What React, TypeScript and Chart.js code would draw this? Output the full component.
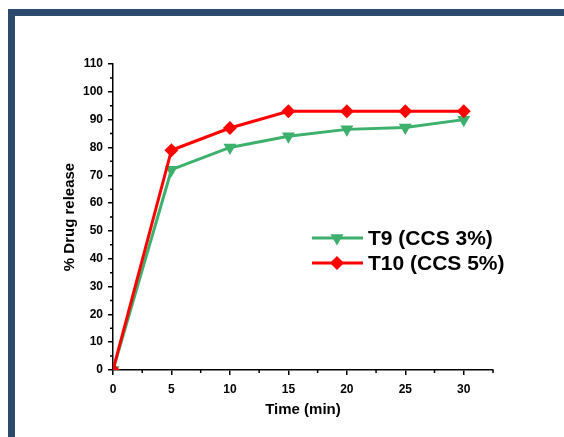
import React, { useEffect, useRef } from "react";
import { Chart, registerables } from "chart.js";

Chart.register(...registerables);

const times = [0, 5, 10, 15, 20, 25, 30];
const t9Values = [0, 72, 80, 84, 86.5, 87.2, 90];
const t10Values = [0, 79, 87, 93, 93, 93, 93];
const xTickValues = [0, 5, 10, 15, 20, 25, 30];
const seriesNames = ["T9 (CCS 3%)", "T10 (CCS 5%)"];
const xTitle = "Time (min)";
const yTitle = "% Drug release";

const GREEN = "#3cb06c";
const RED = "#ff0000";
const FONT = "Arial, 'Liberation Sans', sans-serif";

const extrasPlugin = {
  id: "extras",
  beforeDraw(chart: any) {
    const ctx = chart.ctx;
    ctx.save();
    ctx.fillStyle = "#ffffff";
    ctx.fillRect(0, 0, chart.width, chart.height);
    ctx.fillStyle = "#2c4a6d";
    ctx.fillRect(8, 9, chart.width - 8, 7);
    ctx.fillRect(8, 9, 7, chart.height - 9);
    ctx.restore();
  },
  afterDraw(chart: any) {
    const ctx = chart.ctx;
    const xs = chart.scales.x;
    const ys = chart.scales.y;
    const area = chart.chartArea;
    ctx.save();
    // minor ticks
    ctx.strokeStyle = "#000";
    ctx.lineWidth = 1.5;
    ctx.beginPath();
    for (let v = 2.5; v <= xs.max + 0.01; v += 5) {
      const px = xs.getPixelForValue(v);
      ctx.moveTo(px, area.bottom);
      ctx.lineTo(px, area.bottom + 3);
    }
    for (let v = 5; v <= ys.max; v += 10) {
      const py = ys.getPixelForValue(v);
      ctx.moveTo(area.left, py);
      ctx.lineTo(area.left - 3, py);
    }
    ctx.stroke();

    // axis titles
    ctx.fillStyle = "#000";
    ctx.font = `bold 15px ${FONT}`;
    ctx.textAlign = "center";
    ctx.textBaseline = "middle";
    ctx.fillText(xTitle, (area.left + area.right) / 2, 410);
    ctx.save();
    ctx.translate(70, (area.top + area.bottom) / 2);
    ctx.rotate(-Math.PI / 2);
    ctx.fillText(yTitle, 0, 0);
    ctx.restore();

    // legend
    const rows = [
      { y: 238, color: GREEN, shape: "tri", label: seriesNames[0] },
      { y: 263, color: RED, shape: "dia", label: seriesNames[1] },
    ];
    for (const r of rows) {
      ctx.strokeStyle = r.color;
      ctx.lineWidth = 3;
      ctx.beginPath();
      ctx.moveTo(312, r.y);
      ctx.lineTo(363, r.y);
      ctx.stroke();
      ctx.fillStyle = r.color;
      ctx.beginPath();
      const cx = 337;
      if (r.shape === "tri") {
        const rr = 7.5;
        ctx.moveTo(cx, r.y + rr);
        ctx.lineTo(cx - rr * 0.866, r.y - rr * 0.5);
        ctx.lineTo(cx + rr * 0.866, r.y - rr * 0.5);
      } else {
        const rr = 7;
        ctx.moveTo(cx - rr, r.y);
        ctx.lineTo(cx, r.y - rr);
        ctx.lineTo(cx + rr, r.y);
        ctx.lineTo(cx, r.y + rr);
      }
      ctx.closePath();
      ctx.fill();
      ctx.fillStyle = "#000";
      ctx.font = `bold 21px ${FONT}`;
      ctx.textAlign = "left";
      ctx.textBaseline = "middle";
      ctx.fillText(r.label, 368, r.y + 1);
    }
    ctx.restore();
  },
};

export default function App() {
  const ref = useRef<HTMLCanvasElement>(null);
  useEffect(() => {
    if (!ref.current) return;
    const chart = new Chart(ref.current, {
      type: "line",
      data: {
        datasets: [
          {
            label: seriesNames[0],
            data: times.map((t, i) => ({ x: t, y: t9Values[i] })),
            borderColor: GREEN,
            backgroundColor: GREEN,
            borderWidth: 3,
            pointStyle: "triangle",
            pointRotation: 180,
            pointRadius: 7.5,
            pointBorderWidth: 0,
            order: 1,
            clip: 0,
          },
          {
            label: seriesNames[1],
            data: times.map((t, i) => ({ x: t, y: t10Values[i] })),
            borderColor: RED,
            backgroundColor: RED,
            borderWidth: 3,
            pointStyle: "rectRot",
            pointRadius: 7,
            pointBorderWidth: 0,
            order: 0,
            clip: 0,
          },
        ],
      },
      options: {
        responsive: false,
        animation: false,
        layout: { padding: { left: 0, top: 64, right: 71, bottom: 0 } },
        plugins: { legend: { display: false }, tooltip: { enabled: false } },
        scales: {
          x: {
            type: "linear",
            min: 0,
            max: 32.5,
            afterFit: (s: any) => {
              s.height = 67;
            },
            afterBuildTicks: (s: any) => {
              s.ticks = xTickValues.map((v) => ({ value: v }));
            },
            ticks: {
              stepSize: 5,
              color: "#000",
              font: { family: FONT, size: 12, weight: "bold" },
              padding: 7,
              maxRotation: 0,
            },
            grid: {
              drawOnChartArea: false,
              drawTicks: true,
              tickLength: 5,
              color: "#000",
              lineWidth: 1.5,
            },
            border: { display: true, color: "#000", width: 1.5 },
          },
          y: {
            type: "linear",
            min: 0,
            max: 110,
            afterFit: (s: any) => {
              s.width = 113;
            },
            ticks: {
              stepSize: 10,
              color: "#000",
              font: { family: FONT, size: 12, weight: "bold" },
              padding: 5,
            },
            grid: {
              drawOnChartArea: false,
              drawTicks: true,
              tickLength: 5,
              color: "#000",
              lineWidth: 1.5,
            },
            border: { display: true, color: "#000", width: 1.5 },
          },
        },
      },
      plugins: [extrasPlugin],
    });
    return () => chart.destroy();
  }, []);
  return (
    <div style={{ position: "fixed", left: 0, top: 0, width: 564, height: 437, background: "#fff" }}>
      <canvas ref={ref} width={564} height={437} style={{ display: "block" }} />
    </div>
  );
}
